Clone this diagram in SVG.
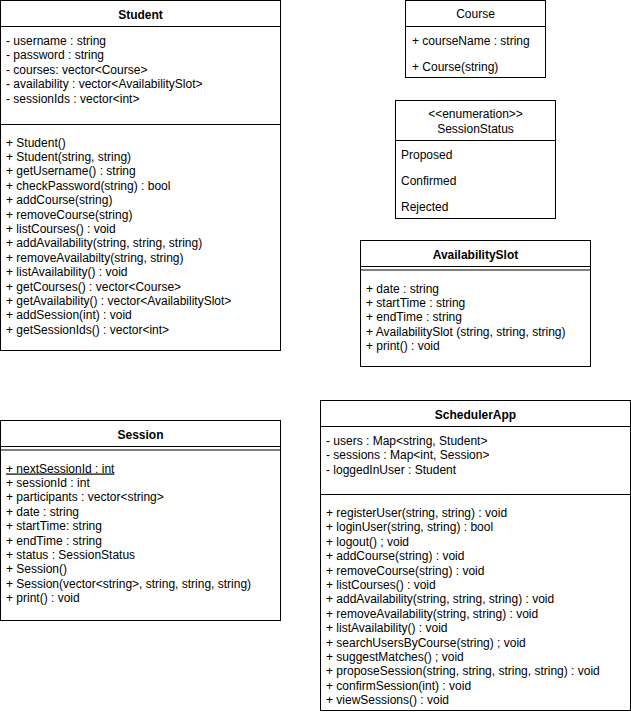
<svg xmlns="http://www.w3.org/2000/svg" width="631" height="714" viewBox="0 0 631 714">
<style>
rect.box{fill:#fff;stroke:#000;stroke-width:1}
line{stroke:#000;stroke-width:1}
text{font-family:"Liberation Sans",Arial,sans-serif;font-size:12px;fill:#000}
.t{font-weight:bold;text-anchor:middle}
.c{text-anchor:middle}
</style>
<rect width="631" height="714" fill="#fff"/>
<g id="Student">
<rect class="box" x="0.5" y="0.5" width="280" height="350"/>
<line x1="0.5" y1="26.5" x2="280.5" y2="26.5"/>
<line x1="0.5" y1="124.5" x2="280.5" y2="124.5"/>
<text class="t" x="140.5" y="18.5">Student</text>
<text x="6" y="45">- username : string</text>
<text x="6" y="59.4">- password : string</text>
<text x="6" y="73.8">- courses: vector&lt;Course&gt;</text>
<text x="6" y="88.2">- availability : vector&lt;AvailabilitySlot&gt;</text>
<text x="6" y="102.6">- sessionIds : vector&lt;int&gt;</text>
<text x="6" y="146.5">+ Student()</text>
<text x="6" y="160.9">+ Student(string, string)</text>
<text x="6" y="175.3">+ getUsername() : string</text>
<text x="6" y="189.7">+ checkPassword(string) : bool</text>
<text x="6" y="204.1">+ addCourse(string)</text>
<text x="6" y="218.5">+ removeCourse(string)</text>
<text x="6" y="232.9">+ listCourses() : void</text>
<text x="6" y="247.3">+ addAvailability(string, string, string)</text>
<text x="6" y="261.7">+ removeAvailabilty(string, string)</text>
<text x="6" y="276.1">+ listAvailability() : void</text>
<text x="6" y="290.5">+ getCourses() : vector&lt;Course&gt;</text>
<text x="6" y="304.9">+ getAvailability() : vector&lt;AvailabilitySlot&gt;</text>
<text x="6" y="319.3">+ addSession(int) : void</text>
<text x="6" y="333.7">+ getSessionIds() : vector&lt;int&gt;</text>
</g>
<g id="Course">
<rect class="box" x="405.5" y="0.5" width="140" height="77"/>
<line x1="405.5" y1="26.5" x2="545.5" y2="26.5"/>
<text class="c" x="475.5" y="17.5">Course</text>
<text x="412" y="44.5">+ courseName : string</text>
<text x="412" y="70.5">+ Course(string)</text>
</g>
<g id="SessionStatus">
<rect class="box" x="395.5" y="100.5" width="160" height="118"/>
<line x1="395.5" y1="140.5" x2="555.5" y2="140.5"/>
<text class="c" x="475.5" y="117.5">&lt;&lt;enumeration&gt;&gt;</text>
<text class="c" x="475.5" y="132.5">SessionStatus</text>
<text x="401" y="158.5">Proposed</text>
<text x="401" y="184.5">Confirmed</text>
<text x="401" y="210.5">Rejected</text>
</g>
<g id="AvailabilitySlot">
<rect class="box" x="360.5" y="240.5" width="230" height="126"/>
<line x1="360.5" y1="266.5" x2="590.5" y2="266.5"/>
<line x1="360.5" y1="270" x2="590.5" y2="270"/>
<text class="t" x="475.5" y="258.5">AvailabilitySlot</text>
<text x="366" y="292.5">+ date : string</text>
<text x="366" y="306.9">+ startTime : string</text>
<text x="366" y="321.3">+ endTime : string</text>
<text x="366" y="335.7">+ AvailabilitySlot (string, string, string)</text>
<text x="366" y="350.1">+ print() : void</text>
</g>
<g id="Session">
<rect class="box" x="0.5" y="420.5" width="280" height="200"/>
<line x1="0.5" y1="446.5" x2="280.5" y2="446.5"/>
<line x1="0.5" y1="450" x2="280.5" y2="450"/>
<text class="t" x="140.5" y="438.5">Session</text>
<text x="6" y="472.5" text-decoration="underline">+ nextSessionId : int</text>
<text x="6" y="486.9">+ sessionId : int</text>
<text x="6" y="501.3">+ participants : vector&lt;string&gt;</text>
<text x="6" y="515.7">+ date : string</text>
<text x="6" y="530.1">+ startTime: string</text>
<text x="6" y="544.5">+ endTime : string</text>
<text x="6" y="558.9">+ status : SessionStatus</text>
<text x="6" y="573.3">+ Session()</text>
<text x="6" y="587.7">+ Session(vector&lt;string&gt;, string, string, string)</text>
<text x="6" y="602.1">+ print() : void</text>
</g>
<g id="SchedulerApp">
<rect class="box" x="320.5" y="400.5" width="310" height="310"/>
<line x1="320.5" y1="426.5" x2="630.5" y2="426.5"/>
<line x1="320.5" y1="494.5" x2="630.5" y2="494.5"/>
<text class="t" x="475.5" y="418.5">SchedulerApp</text>
<text x="326" y="445">- users : Map&lt;string, Student&gt;</text>
<text x="326" y="459.4">- sessions : Map&lt;int, Session&gt;</text>
<text x="326" y="473.8">- loggedInUser : Student</text>
<text x="326" y="517">+ registerUser(string, string) : void</text>
<text x="326" y="531.4">+ loginUser(string, string) : bool</text>
<text x="326" y="545.8">+ logout() ; void</text>
<text x="326" y="560.2">+ addCourse(string) : void</text>
<text x="326" y="574.6">+ removeCourse(string) : void</text>
<text x="326" y="589">+ listCourses() : void</text>
<text x="326" y="603.4">+ addAvailability(string, string, string) : void</text>
<text x="326" y="617.8">+ removeAvailability(string, string) : void</text>
<text x="326" y="632.2">+ listAvailability() : void</text>
<text x="326" y="646.6">+ searchUsersByCourse(string) ; void</text>
<text x="326" y="661">+ suggestMatches() ; void</text>
<text x="326" y="675.4">+ proposeSession(string, string, string, string) : void</text>
<text x="326" y="689.8">+ confirmSession(int) : void</text>
<text x="326" y="704.2">+ viewSessions() : void</text>
</g>
<g id="connectors"></g>
</svg>
